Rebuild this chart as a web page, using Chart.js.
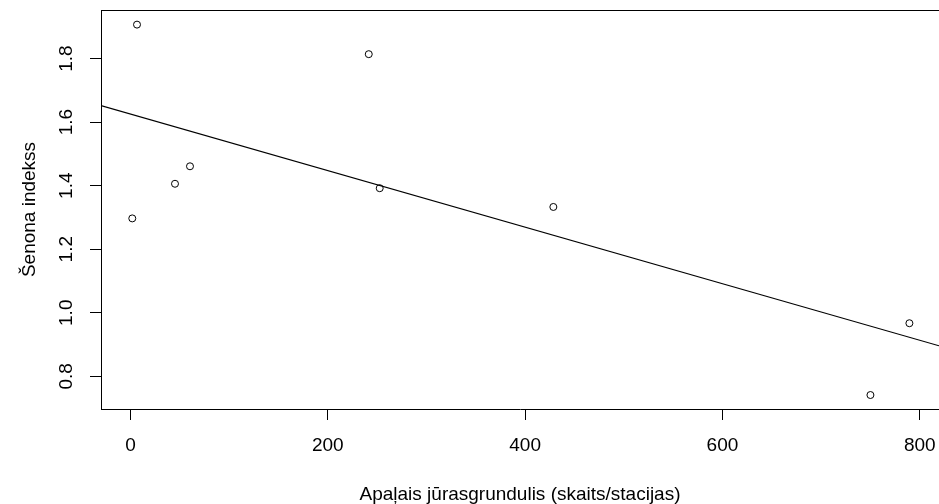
<!DOCTYPE html>
<html>
<head>
<meta charset="utf-8">
<script src="https://cdn.jsdelivr.net/npm/chart.js@4"></script>
<style>
    html, body { margin: 0; padding: 0; background: #fff; overflow: hidden; }
    #wrap { width: 939px; height: 504px; position: relative; }
</style>
</head>
<body>
<div id="wrap"><canvas id="chart"></canvas></div>
<script>
const gobyCounts = [1.8, 6.6, 45.1, 60.3, 241.5, 252.6, 428.6, 750, 789.5];
const shannonIndex = [1.297, 1.907, 1.406, 1.461, 1.814, 1.392, 1.333, 0.741, 0.967];

// Fitted line, ends at the plot edges
const fitX = [-29.9, 819.5];
const fitY = [1.652, 0.896];

const xTicks = [0, 200, 400, 600, 800];
const yTicks = [0.8, 1.0, 1.2, 1.4, 1.6, 1.8];

const xTitle = "Apaļais jūrasgrundulis (skaits/stacijas)";
const yTitle = "Šenona indekss";

const fontFamily = "'Liberation Sans', Arial, sans-serif";

const toPoints = (xs, ys) => xs.map((x, i) => ({ x: x, y: ys[i] }));

const fixScale = (width, height) => scale => {
    if (width) scale.width = width;
    if (height) scale.height = height;
    scale.paddingTop = 0;
    scale.paddingBottom = 0;
    scale.paddingLeft = 0;
    scale.paddingRight = 0;
};

// top edge of the box, the right edge is off the picture
const boxPlugin = {
    id: "box",
    afterDraw(chart) {
        const { ctx, chartArea } = chart;
        ctx.save();
        ctx.strokeStyle = "#000";
        ctx.lineWidth = 1;
        ctx.beginPath();
        ctx.moveTo(chartArea.left, chartArea.top + 0.5);
        ctx.lineTo(chartArea.right, chartArea.top + 0.5);
        ctx.stroke();
        ctx.restore();
    }
};

new Chart(document.getElementById("chart"), {
    type: "scatter",
    data: {
        datasets: [
            {
                data: toPoints(gobyCounts, shannonIndex),
                pointRadius: 3.5,
                pointBorderWidth: 1,
                pointBorderColor: "#000",
                pointBackgroundColor: "rgba(0,0,0,0)",
                showLine: false
            },
            {
                type: "line",
                data: toPoints(fitX, fitY),
                borderColor: "#000",
                borderWidth: 1.2,
                pointRadius: 0,
                fill: false
            }
        ]
    },
    options: {
        responsive: true,
        maintainAspectRatio: false,
        animation: false,
        layout: { autoPadding: false, padding: { top: 10, right: 0, bottom: 0, left: 0 } },
        plugins: {
            legend: { display: false },
            tooltip: { enabled: false }
        },
        scales: {
            x: {
                type: "linear",
                min: -29.9,
                max: 819.5,
                afterBuildTicks: scale => { scale.ticks = xTicks.map(v => ({ value: v })); },
                afterFit: fixScale(null, 95),
                border: { display: true, color: "#000", width: 1 },
                grid: { drawOnChartArea: false, drawTicks: true, tickLength: 11, color: "#000", lineWidth: 1 },
                ticks: {
                    color: "#000",
                    padding: 14,
                    maxRotation: 0,
                    font: { family: fontFamily, size: 19 }
                },
                title: {
                    display: true,
                    text: xTitle,
                    color: "#000",
                    padding: 0,
                    font: { family: fontFamily, size: 19, lineHeight: 1 }
                }
            },
            y: {
                type: "linear",
                min: 0.697,
                max: 1.953,
                afterBuildTicks: scale => { scale.ticks = yTicks.map(v => ({ value: v })); },
                afterFit: fixScale(101, null),
                border: { display: true, color: "#000", width: 1 },
                grid: { drawOnChartArea: false, drawTicks: true, tickLength: 11, color: "#000", lineWidth: 1 },
                ticks: {
                    color: "#000",
                    padding: 10,
                    minRotation: 90,
                    maxRotation: 90,
                    crossAlign: "center",
                    font: { family: fontFamily, size: 19 },
                    callback: value => value.toFixed(1)
                },
                title: {
                    display: true,
                    text: yTitle,
                    color: "#000",
                    padding: { top: 20, bottom: 0 },
                    font: { family: fontFamily, size: 19, lineHeight: 1 }
                }
            }
        }
    },
    plugins: [boxPlugin]
});
</script>
</body>
</html>
